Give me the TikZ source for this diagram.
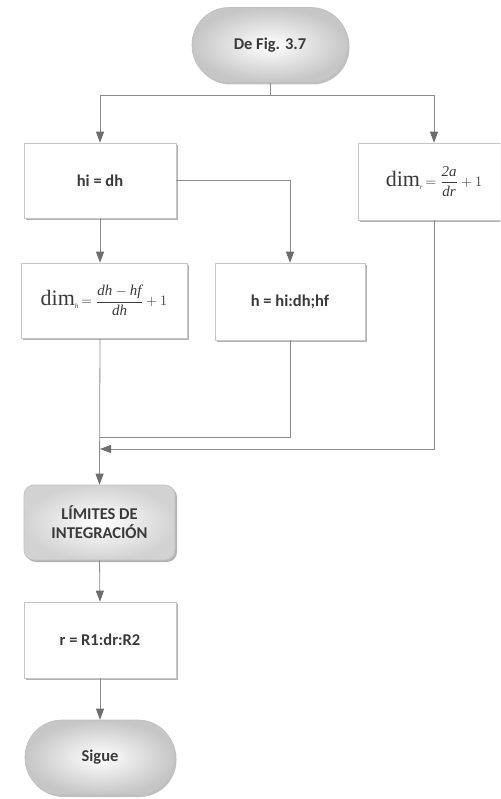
\documentclass[tikz,border=0pt]{standalone}
\usepackage{fontspec}
\usepackage{amsmath}
\setmainfont{Carlito}
\newfontfamily\ser{Liberation Serif}
\usetikzlibrary{arrows.meta,shadows}
\definecolor{txt}{HTML}{3A3A3A}
\definecolor{ln}{HTML}{8C8C8C}
\definecolor{tipc}{HTML}{6E6E6E}
\begin{document}
\begin{tikzpicture}[x=1pt,y=-1pt,
  every node/.style={font=\bfseries\fontsize{16.5}{19}\selectfont, text=txt, align=center, inner sep=0pt},
  boxnode/.style={draw=gray!45, fill=white, line width=0.6pt,
    drop shadow={shadow xshift=2pt, shadow yshift=-2pt, fill=gray!85, opacity=0.7}},
  term/.style={draw=gray!50, line width=0.6pt, rounded corners=37pt, inner color=white, outer color=gray!45,
    drop shadow={shadow xshift=1.5pt, shadow yshift=-2pt, fill=gray!80, opacity=0.6}},
  limbox/.style={draw=gray!50, line width=0.6pt, rounded corners=10pt, inner color=white, outer color=gray!35,
    drop shadow={shadow xshift=2pt, shadow yshift=-2pt, fill=gray!85, opacity=0.7}},
  conn/.style={draw=ln, line width=0.8pt},
  arr/.style={conn, -{Triangle[length=11pt,width=8pt,fill=tipc,color=tipc]}}
]
\useasboundingbox (0,0) rectangle (500,799);
\clip (0,0) rectangle (500,799);
\fill[white] (0,0) rectangle (500,799);

\node[term, minimum width=156pt, minimum height=75pt] (top) at (270,45) {De Fig. 3.7};
\node[boxnode, minimum width=152pt, minimum height=75pt] (hi) at (100,180.5) {hi = dh};
\node[boxnode, minimum width=152pt, minimum height=77pt] (dimr) at (434,181.5)
  {\ser\mdseries{\fontsize{22}{22}\selectfont dim}\raisebox{-3pt}{\fontsize{7}{7}\selectfont\itshape r}\,{\fontsize{15}{16}\selectfont$\displaystyle=\frac{\textit{2a}}{\textit{dr}}+1$}};
\node[boxnode, minimum width=166pt, minimum height=75pt] (dimh) at (104,300.5)
  {\ser\mdseries{\fontsize{22}{22}\selectfont dim}\raisebox{-3pt}{\fontsize{7}{7}\selectfont\itshape h}\,{\fontsize{15}{16}\selectfont$\displaystyle=\frac{\textit{dh}-\textit{hf}}{\textit{dh}}+1$}};
\node[boxnode, minimum width=150pt, minimum height=77pt] (h) at (290,301.5) {h = hi:dh;hf};
\node[limbox, minimum width=151pt, minimum height=75pt] (lim) at (99.5,522.5) {LÍMITES DE\\INTEGRACIÓN};
\node[boxnode, minimum width=152pt, minimum height=76pt] (r) at (100,640) {r = R1:dr:R2};
\node[term, minimum width=150pt, minimum height=75pt] (sig) at (100,757.5) {Sigue};

\coordinate (j) at (270,95);
\coordinate (m1) at (100,437);
\coordinate (m2) at (100,449);

\draw[conn] (top.south) -- (j);
\draw[arr] (j) -| (hi.north);
\draw[arr] (j) -| (dimr.north);
\draw[arr] (hi.east) -| (h.north);
\draw[arr] (hi.south) -- (hi.south |- dimh.north);
\draw[arr] (hi.south |- dimh.south) -- (lim.north);
\draw[conn] (h.south) |- (m1);
\draw[arr] (dimr.south) |- (m2);
\draw[arr] (lim.south) -- (r.north);
\draw[arr] (r.south) -- (sig.north);
\end{tikzpicture}
\end{document}
